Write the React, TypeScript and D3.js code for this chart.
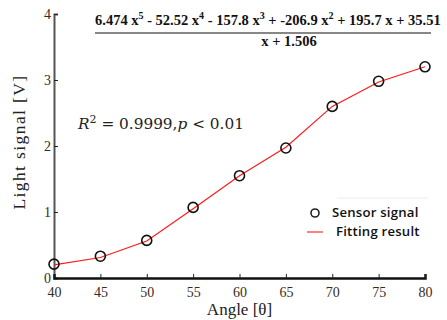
import React, { useRef, useEffect } from 'react';
import * as d3 from 'd3';

const angles = [40, 45, 50, 55, 60, 65, 70, 75, 80];
const sensorSignal = [0.21, 0.33, 0.57, 1.07, 1.55, 1.97, 2.6, 2.98, 3.2];
const fittingResult = [0.2, 0.31, 0.56, 1.05, 1.55, 1.98, 2.6, 2.97, 3.2];
const xTicks = [40, 45, 50, 55, 60, 65, 70, 75, 80];
const yTicks = [0, 1, 2, 3, 4];

const width = 447;
const height = 320;

const App = () => {
  const svgRef = useRef<SVGSVGElement>(null);

  useEffect(() => {
    const svg = d3.select(svgRef.current);
    svg.selectAll('*').remove();

    const margin = { top: 14, right: 22, bottom: 42, left: 54 };
    const innerWidth = width - margin.left - margin.right;
    const innerHeight = height - margin.top - margin.bottom;

    const g = svg.append('g').attr('transform', `translate(${margin.left},${margin.top})`);

    const x = d3.scaleLinear().domain([40, 80]).range([0, innerWidth]);
    const y = d3.scaleLinear().domain([0, 4]).range([innerHeight, 0]);

    // y axis
    const yAxis = g.append('g')
      .call(d3.axisRight(y).tickValues(yTicks).tickSize(4).tickFormat(d3.format('d')));
    yAxis.select('.domain').attr('stroke', '#555').attr('stroke-width', 2);
    yAxis.selectAll('.tick line').attr('stroke', '#222');
    yAxis.selectAll('.tick text')
      .attr('x', -3)
      .attr('text-anchor', 'end')
      .attr('font-family', 'Liberation Serif')
      .attr('font-size', 14)
      .attr('fill', '#3a2a1a');

    // x axis
    const xAxis = g.append('g')
      .attr('transform', `translate(0,${innerHeight})`)
      .call(d3.axisTop(x).tickValues(xTicks).tickSize(4).tickFormat(d3.format('d')));
    xAxis.select('.domain').attr('stroke', '#111').attr('stroke-width', 2.5);
    xAxis.selectAll('.tick line').attr('stroke', '#222');
    xAxis.selectAll('.tick text')
      .attr('y', 14)
      .attr('dy', '0.35em')
      .attr('font-family', 'Liberation Serif')
      .attr('font-size', 14)
      .attr('fill', '#3a2a1a');

    // axis labels
    g.append('text')
      .attr('x', innerWidth / 2)
      .attr('y', innerHeight + 37)
      .attr('text-anchor', 'middle')
      .attr('font-family', 'Liberation Serif')
      .attr('font-size', 17)
      .attr('fill', '#222')
      .text('Angle [θ]');

    g.append('text')
      .attr('transform', 'rotate(-90)')
      .attr('x', -innerHeight / 2 + 4)
      .attr('y', -29)
      .attr('text-anchor', 'middle')
      .attr('font-family', 'Liberation Serif')
      .attr('font-size', 17.5)
      .attr('letter-spacing', 1.4)
      .attr('fill', '#222')
      .text('Light signal [V]');

    // fitted curve
    const line = d3.line<number>()
      .x((d, i) => x(angles[i]))
      .y(d => y(d));

    g.append('path')
      .datum(fittingResult)
      .attr('fill', 'none')
      .attr('stroke', '#ff1a1a')
      .attr('stroke-width', 1.2)
      .attr('d', line);

    // sensor markers
    g.selectAll('circle.pt')
      .data(sensorSignal)
      .enter()
      .append('circle')
      .attr('class', 'pt')
      .attr('cx', (d, i) => x(angles[i]))
      .attr('cy', d => y(d))
      .attr('r', 5)
      .attr('fill', 'none')
      .attr('stroke', '#111')
      .attr('stroke-width', 1.6);

    // equation
    const eq = svg.append('text')
      .attr('x', 95)
      .attr('y', 25)
      .attr('font-family', 'Liberation Serif')
      .attr('font-weight', 'bold')
      .attr('font-size', 14.5)
      .attr('fill', '#111');
    const parts: [string, string | null][] = [
      ['6.474 x', '5'], [' - 52.52 x', '4'], [' - 157.8 x', '3'],
      [' + -206.9 x', '2'], [' + 195.7 x + 35.51', null],
    ];
    let shift = 0;
    parts.forEach(([t, sup]) => {
      eq.append('tspan').attr('dy', shift).text(t);
      shift = 0;
      if (sup) {
        eq.append('tspan').attr('dy', -6).attr('font-size', 10).text(sup);
        shift = 6;
      }
    });
    svg.append('line')
      .attr('x1', 95).attr('x2', 431)
      .attr('y1', 33).attr('y2', 33)
      .attr('stroke', '#111').attr('stroke-width', 1.2);
    svg.append('text')
      .attr('x', 289)
      .attr('y', 46)
      .attr('text-anchor', 'middle')
      .attr('font-family', 'Liberation Serif')
      .attr('font-weight', 'bold')
      .attr('font-size', 14.5)
      .attr('fill', '#111')
      .text('x + 1.506');

    // R squared
    const r2 = svg.append('text')
      .attr('x', 78)
      .attr('y', 129)
      .attr('font-family', 'DejaVu Serif')
      .attr('font-size', 15.3)
      .attr('fill', '#222');
    r2.append('tspan').attr('font-style', 'italic').text('R');
    r2.append('tspan').attr('dy', -6).attr('font-size', 11).text('2');
    r2.append('tspan').attr('dy', 6).text(' = 0.9999,');
    r2.append('tspan').attr('font-style', 'italic').text('p');
    r2.append('tspan').text(' < 0.01');

    // legend
    const lg = svg.append('g').attr('transform', 'translate(300,198)');
    lg.append('line')
      .attr('x1', 37).attr('x2', 128).attr('y1', 0).attr('y2', 0)
      .attr('stroke', '#ececec');
    lg.append('circle')
      .attr('cx', 15).attr('cy', 15).attr('r', 4)
      .attr('fill', 'none').attr('stroke', '#222').attr('stroke-width', 1.6);
    lg.append('text')
      .attr('x', 32).attr('y', 19)
      .attr('font-family', 'Open Sans')
      .attr('font-weight', 600)
      .attr('font-size', 13.2)
      .attr('letter-spacing', 0.2)
      .attr('fill', '#111')
      .text('Sensor signal');
    lg.append('line')
      .attr('x1', 7).attr('x2', 23).attr('y1', 34).attr('y2', 34)
      .attr('stroke', '#ff3030').attr('stroke-width', 1.2);
    lg.append('text')
      .attr('x', 36).attr('y', 38)
      .attr('font-family', 'Open Sans')
      .attr('font-weight', 600)
      .attr('font-size', 13.2)
      .attr('letter-spacing', 0.2)
      .attr('fill', '#111')
      .text('Fitting result');
  }, []);

  return (
    <svg
      ref={svgRef}
      width={width}
      height={height}
      style={{ position: 'absolute', left: 0, top: 0, background: 'white' }}
    />
  );
};

export default App;
